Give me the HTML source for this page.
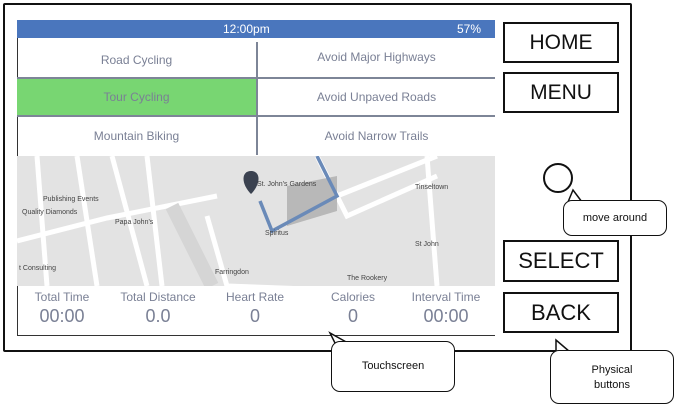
<!DOCTYPE html>
<html><head><meta charset="utf-8"><style>
*{margin:0;padding:0;box-sizing:border-box}
body{width:678px;height:409px;background:#fff;position:relative;overflow:hidden;font-family:"Liberation Sans",sans-serif}
.abs{position:absolute}
.frame{left:3px;top:3px;width:629px;height:349px;border:2.5px solid #111;border-radius:2px}
.screen{left:17px;top:20px;width:478px;height:316px;background:#fff;border-left:1px solid #333;border-bottom:1px solid #333}
.bar{left:17px;top:20px;width:478px;height:18px;background:#4a76bd;color:#fff;font-size:12px;line-height:18px}
.cell{position:absolute;color:#7a8095;font-size:12px;text-align:center}
.hb{position:absolute;border:2px solid #111;background:#fff;font-size:21px;text-align:center;color:#111}
.bub{position:absolute;border:1.5px solid #111;border-radius:9px;background:#fff;font-size:11px;text-align:center;color:#111}
.st{position:absolute;text-align:center;color:#7a8095;width:96px}
.st .l{font-size:12px}.st .v{font-size:18px;margin-top:2px}
</style></head><body>
<div class="abs frame"></div>
<div class="abs screen"></div>
<div class="abs bar"><span class="abs" style="left:206px">12:00pm</span><span class="abs" style="left:440px">57%</span></div>
<div class="abs" style="left:17px;top:78px;width:239px;height:38px;background:#78d672"></div>
<div class="abs" style="left:17px;top:77px;width:478px;height:2px;background:#7d8597"></div>
<div class="abs" style="left:17px;top:115px;width:478px;height:2px;background:#7d8597"></div>
<div class="abs" style="left:256px;top:42px;width:2px;height:113px;background:#7d8597"></div>
<div class="cell" style="left:17px;top:53px;width:239px">Road Cycling</div>
<div class="cell" style="left:258px;top:50px;width:237px">Avoid Major Highways</div>
<div class="cell" style="left:17px;top:90px;width:239px">Tour Cycling</div>
<div class="cell" style="left:258px;top:90px;width:237px">Avoid Unpaved Roads</div>
<div class="cell" style="left:17px;top:129px;width:239px">Mountain Biking</div>
<div class="cell" style="left:258px;top:129px;width:237px">Avoid Narrow Trails</div>
<svg class="abs" style="left:17px;top:156px" width="478" height="130">
<rect width="478" height="130" fill="#e3e3e3"/>
<g stroke="#fff" stroke-width="5" fill="none">
<path d="M0 85 L90 62 L200 40"/><path d="M95 0 L130 130"/><path d="M130 0 L145 130"/><path d="M60 0 L80 130"/>
<path d="M190 60 L210 130 L478 140"/><path d="M320 40 L420 0"/><path d="M300 0 L330 60 L420 20"/><path d="M410 0 L420 130"/>
<path d="M20 0 L30 130"/>
</g>
<path d="M155 50 L195 130" stroke="#d5d5d5" stroke-width="14" fill="none"/>
<path d="M270 30 L320 20 L320 55 L270 70 Z" fill="#b8b8b8"/>
<path d="M300 0 L320 40 L255 75 L243 45" stroke="#6a8ab8" stroke-width="3.5" fill="none"/>
<path d="M234 38 C224 28 224 15 234 15 C244 15 244 28 234 38Z" fill="#3b4250"/>
<g font-size="7" fill="#444" font-family="Liberation Sans,sans-serif">
<text x="26" y="45">Publishing Events</text><text x="5" y="58">Quality Diamonds</text><text x="98" y="68">Papa John's</text><text x="240" y="30">St. John's Gardens</text><text x="398" y="33">Tinseltown</text><text x="398" y="90">St John</text><text x="330" y="124">The Rookery</text><text x="198" y="118">Farringdon</text><text x="2" y="114">t Consulting</text><text x="248" y="79">Spiritus</text>
</g></svg>
<div class="st" style="left:14px;top:290px"><div class="l">Total Time</div><div class="v">00:00</div></div>
<div class="st" style="left:110px;top:290px"><div class="l">Total Distance</div><div class="v">0.0</div></div>
<div class="st" style="left:207px;top:290px"><div class="l">Heart Rate</div><div class="v">0</div></div>
<div class="st" style="left:305px;top:290px"><div class="l">Calories</div><div class="v">0</div></div>
<div class="st" style="left:398px;top:290px"><div class="l">Interval Time</div><div class="v">00:00</div></div>
<div class="hb" style="left:503px;top:22px;width:116px;height:41px;line-height:37px">HOME</div>
<div class="hb" style="left:503px;top:72px;width:116px;height:41px;line-height:37px">MENU</div>
<div class="abs" style="left:543px;top:163px;width:30px;height:30px;border:2px solid #111;border-radius:50%"></div>
<svg class="abs" style="left:0;top:0" width="678" height="409">
<path d="M568 202 L573 190 L582 202" fill="#fff" stroke="#111" stroke-width="1.5"/>
<path d="M335 343 L330 333 L348 343" fill="#fff" stroke="#111" stroke-width="1.5"/>
<path d="M556 352 L556 340 L570 352" fill="#fff" stroke="#111" stroke-width="1.5"/>
</svg>
<div class="bub" style="left:563px;top:200px;width:104px;height:36px;line-height:34px">move around</div>
<div class="hb" style="left:503px;top:240px;width:116px;height:42px;line-height:38px;font-size:22px">SELECT</div>
<div class="hb" style="left:503px;top:292px;width:116px;height:41px;line-height:37px;font-size:22px">BACK</div>
<div class="bub" style="left:331px;top:341px;width:124px;height:51px;line-height:49px">Touchscreen</div>
<div class="bub" style="left:550px;top:350px;width:124px;height:54px;padding-top:12px;line-height:15px">Physical<br>buttons</div>
</body></html>
